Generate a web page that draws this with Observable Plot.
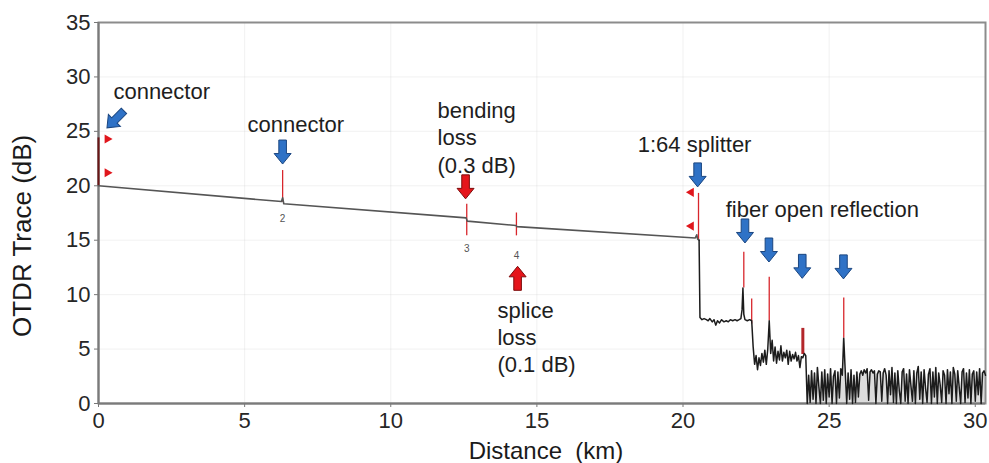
<!DOCTYPE html>
<html>
<head>
<meta charset="utf-8">
<script src="https://cdn.jsdelivr.net/npm/d3@7"></script>
<script src="https://cdn.jsdelivr.net/npm/@observablehq/plot@0.6"></script>
<style>
  html, body { margin: 0; padding: 0; background: #fff; }
  #chart { width: 989px; height: 463px; overflow: hidden; }
</style>
</head>
<body>
<div id="chart"></div>
<script>
// ---- Ticks ----
const xTicks = [0, 5, 10, 15, 20, 25, 30];
const yTicks = [0, 5, 10, 15, 20, 25, 30, 35];

// ---- OTDR trace (km, dB) ----
const traceKm = [
  0, 6.26, 6.3, 6.34, 12.58, 12.62, 14.28, 14.32, 20.42, 20.47, 20.5, 20.55,
  20.58, 20.65, 20.72, 20.8, 20.86, 20.92, 21.0, 21.06, 21.12, 21.18, 21.25, 21.32,
  21.4, 21.48, 21.55, 21.62, 21.7, 21.78, 21.85, 21.92, 21.98, 22.02, 22.05, 22.08,
  22.12, 22.2, 22.28, 22.35,
  22.4, 22.45, 22.5, 22.55, 22.6, 22.65, 22.7, 22.75, 22.8, 22.85, 22.9, 22.95,
  23.0, 23.05, 23.1, 23.15, 23.2, 23.25, 23.3, 23.35, 23.4, 23.45, 23.5, 23.55,
  23.6, 23.65, 23.7, 23.75, 23.8, 23.85, 23.9, 23.95, 24.0, 24.05, 24.1, 24.15, 24.2,
  24.25, 24.3, 24.35, 24.4, 24.45, 24.5, 24.55, 24.6, 24.65, 24.7, 24.75, 24.8,
  24.85, 24.9, 24.95, 25.0, 25.05, 25.1, 25.15, 25.2, 25.25, 25.3, 25.35, 25.4,
  25.45, 25.5, 25.55, 25.6, 25.65, 25.7, 25.75, 25.8, 25.85, 25.9, 25.95, 26.0,
  26.05, 26.1, 26.15, 26.2, 26.25, 26.3, 26.35, 26.4, 26.45, 26.5, 26.55, 26.6,
  26.65, 26.7, 26.75, 26.8, 26.85, 26.9, 26.95, 27.0, 27.05, 27.1, 27.15, 27.2,
  27.25, 27.3, 27.35, 27.4, 27.45, 27.5, 27.55, 27.6, 27.65, 27.7, 27.75, 27.8,
  27.85, 27.9, 27.95, 28.0, 28.05, 28.1, 28.15, 28.2, 28.25, 28.3, 28.35, 28.4,
  28.45, 28.5, 28.55, 28.6, 28.65, 28.7, 28.75, 28.8, 28.85, 28.9, 28.95, 29.0,
  29.05, 29.1, 29.15, 29.2, 29.25, 29.3, 29.35, 29.4, 29.45, 29.5, 29.55, 29.6,
  29.65, 29.7, 29.75, 29.8, 29.85, 29.9, 29.95, 30.0, 30.05, 30.1, 30.15, 30.2,
  30.25, 30.3, 30.35
];
const traceDb = [
  20.0, 18.55, 18.9, 18.35, 17.05, 16.75, 16.35, 16.25, 15.2, 15.5, 15.1, 15.0,
  7.9, 7.7, 7.8, 7.7, 7.6, 7.8, 7.5, 7.7, 7.2, 7.6, 7.4, 7.7,
  7.5, 7.6, 7.5, 7.7, 7.6, 7.7, 7.6, 7.7, 7.8, 8.6, 10.6, 8.2,
  7.7, 7.6, 7.7, 7.6,
  5.2, 3.6, 4.4, 3.1, 4.2, 3.5, 4.6, 3.8, 4.9, 3.6, 5.0, 7.6,
  4.6, 5.8, 3.9, 5.2, 3.7, 4.8, 4.0, 5.3, 3.9, 4.7, 4.2, 4.9,
  3.6, 4.8, 3.9, 4.5, 4.1, 4.7, 3.9, 4.4, 3.3, 4.3, 4.2, 4.6, 4.4,
  0.0, 2.6, 0.1, 3.0, 0.4, 2.8, 0.0, 3.3, 1.5, 0.0, 2.9, 0.3,
  3.1, 0.0, 2.7, 0.6, 3.2, 0.0, 2.5, 3.0, 0.0, 2.9, 0.5, 3.2,
  2.6, 6.0, 3.0, 0.0, 2.8, 0.4, 3.1, 0.0, 2.6, 0.1, 2.9, 0.6,
  2.7, 3.0, 2.6, 3.1, 2.8, 3.2, 0.3, 2.9, 3.1, 2.8, 3.0, 0.0,
  2.7, 3.0, 2.9, 0.2, 2.8, 3.2, 2.6, 0.0, 3.0, 0.8, 3.3, 0.1,
  2.8, 0.0, 3.0, 1.2, 0.0, 2.9, 3.2, 0.2, 2.7, 0.0, 3.1, 1.6,
  0.2, 3.0, 0.0, 2.8, 3.4, 0.4, 2.9, 0.0, 3.1, 1.4, 0.1, 2.7,
  3.2, 0.0, 2.9, 0.6, 3.3, 0.0, 2.8, 1.7, 0.1, 3.0, 2.6, 0.0,
  3.1, 0.9, 2.9, 0.0, 3.3, 2.7, 0.2, 3.0, 1.5, 0.0, 2.9, 3.2,
  0.1, 2.8, 0.5, 3.1, 0.0, 2.7, 3.0, 0.2, 2.9, 0.8, 3.2, 0.0,
  2.8, 3.0, 2.6
];

// ---- Event marker lines (red) ----
const eventKm   = [0.0, 6.3, 12.6, 14.3, 20.53, 22.08, 22.35, 22.95, 24.1, 25.5];
const eventLow  = [20.0, 18.5, 15.4, 15.4, 15.0, 10.6, 7.3, 7.6, 4.5, 6.0];
const eventHigh = [24.4, 21.4, 18.3, 17.5, 19.3, 13.9, 9.6, 11.6, 6.9, 9.7];

// ---- Small red pointer triangles ----
const pointerKm = [0.3, 0.3, 20.28, 20.28];
const pointerDb = [24.3, 21.2, 19.4, 16.3];

// ---- Event numbers ----
const eventNumKm = [6.3, 12.6, 14.3];
const eventNumDb = [17.0, 14.2, 13.6];
const eventNumLabel = ["2", "3", "4"];

// ---- Annotation arrows ----
const blueArrowKm = [0.58, 6.3, 20.5, 22.12, 22.94, 24.08, 25.49];
const blueArrowDb = [26.1, 23.1, 21.0, 15.85, 14.1, 12.6, 12.55];
const redArrowKm = [12.56, 14.34];
const redArrowDb = [19.9, 11.5];

// ---- Annotation texts ----
const noteLabel = ["connector", "connector", "bending\nloss\n(0.3 dB)", "splice\nloss\n(0.1 dB)", "1:64 splitter", "fiber open reflection"];
const noteKm = [0.51, 5.1, 11.6, 13.65, 18.45, 21.46];
const noteDb = [28.75, 25.72, 24.5, 6.15, 23.88, 17.91];

// ---- Build tables ----
const trace = traceKm.map((d, i) => ({km: d, db: traceDb[i]}));
const events = eventKm.map((d, i) => ({km: d, lo: eventLow[i], hi: eventHigh[i], i}));
const pointers = pointerKm.map((d, i) => ({km: d, db: pointerDb[i], i}));
const eventNums = eventNumKm.map((d, i) => ({km: d, db: eventNumDb[i], t: eventNumLabel[i]}));
const blueArrows = blueArrowKm.map((d, i) => ({km: d, db: blueArrowDb[i], i}));
const redArrows = redArrowKm.map((d, i) => ({km: d, db: redArrowDb[i], i}));
const notes = noteLabel.map((t, i) => ({t, km: noteKm[i], db: noteDb[i]}));

// block arrow pointing down, centred on origin
const blockArrow = {
  draw(ctx) {
    ctx.moveTo(-3.8, -12);
    ctx.lineTo(3.8, -12);
    ctx.lineTo(3.8, 1.5);
    ctx.lineTo(8.5, 1.5);
    ctx.lineTo(0, 12);
    ctx.lineTo(-8.5, 1.5);
    ctx.lineTo(-3.8, 1.5);
    ctx.closePath();
  }
};

const FONT = "'Liberation Sans', Arial, Helvetica, sans-serif";

const chart = Plot.plot({
  width: 989,
  height: 463,
  marginLeft: 98,
  marginRight: 4,
  marginTop: 22,
  marginBottom: 60,
  style: {fontFamily: FONT, background: "#fff", overflow: "visible"},
  x: {domain: [0, 30.35]},
  y: {domain: [0, 35]},
  marks: [
    Plot.gridX(xTicks.slice(1, -1), {stroke: "#ccc", strokeOpacity: 0.25}),
    Plot.gridY(yTicks.slice(1, -1), {stroke: "#ccc", strokeOpacity: 0.25}),
    Plot.frame({stroke: "#8c8c8c", strokeWidth: 2}),
    Plot.axisX({ticks: xTicks, tickSize: 4, tickPadding: 5, fontSize: 22, color: "#262626", stroke: "#777", label: null}),
    Plot.axisY({ticks: yTicks, tickSize: 4, tickPadding: 4, fontSize: 22, color: "#262626", stroke: "#777", label: null}),
    // light fill that the dense noise floor gives
    Plot.areaY(trace, {filter: d => d.km >= 24.22, x: "km", y: "db", fill: "#9a9a9a", fillOpacity: 0.35, curve: "step"}),
    Plot.ruleX([0], {stroke: "#7a7a7a", strokeWidth: 2}),
    Plot.ruleY([0], {stroke: "#7a7a7a", strokeWidth: 2}),
    // event marker lines
    Plot.ruleX(events, {filter: d => d.i !== 0 && d.i !== 8, x: "km", y1: "lo", y2: "hi", stroke: "#d8262c", strokeWidth: 1.3}),
    Plot.ruleX(events, {filter: d => d.i === 8, x: "km", y1: "lo", y2: "hi", stroke: "#b3262a", strokeWidth: 3}),
    Plot.ruleX(events, {filter: d => d.i === 0, x: "km", y1: "lo", y2: "hi", stroke: "#6b1515", strokeWidth: 2}),
    // trace
    Plot.line(trace, {filter: d => d.km <= 20.56, x: "km", y: "db", stroke: "#555", strokeWidth: 1.6, strokeLinejoin: "round"}),
    Plot.line(trace, {filter: d => d.km >= 20.55, x: "km", y: "db", stroke: "#1c1c1c", strokeWidth: 1.5, strokeLinejoin: "round"}),
    // pointers
    Plot.dot(pointers, {x: "km", y: "db", symbol: "triangle", r: 3.4, fill: "#e0161c", stroke: "none", rotate: d => d.i < 2 ? 90 : -90}),
    // event numbers
    Plot.text(eventNums, {x: "km", y: "db", text: "t", fontSize: 10, fill: "#555"}),
    // arrows
    Plot.dot(blueArrows, {x: "km", y: "db", symbol: blockArrow, r: 8, fill: "#2f72c6", stroke: "#1b4680", strokeWidth: 1, rotate: d => d.i === 0 ? 45 : 0}),
    Plot.dot(redArrows, {x: "km", y: "db", symbol: blockArrow, r: 8, fill: "#e5151b", stroke: "#7d0c0c", strokeWidth: 1, rotate: d => d.i === 1 ? 180 : 0}),
    // annotation texts
    Plot.text(notes, {x: "km", y: "db", text: "t", textAnchor: "start", lineAnchor: "middle", lineHeight: 1.23, fontSize: 22, fill: "#1e1e1e"}),
    // axis titles (offset from the frame centre)
    Plot.text(["Distance\u00a0 (km)"], {frameAnchor: "middle", textAnchor: "middle", lineAnchor: "middle", dx: 4, dy: 238, fontSize: 24, fill: "#1a1a1a"}),
    Plot.text(["OTDR Trace (dB)"], {frameAnchor: "middle", textAnchor: "start", lineAnchor: "middle", dx: -519, dy: 124, rotate: -90, fontSize: 26, fill: "#1a1a1a"})
  ]
});

document.getElementById("chart").appendChild(chart);
</script>
</body>
</html>
